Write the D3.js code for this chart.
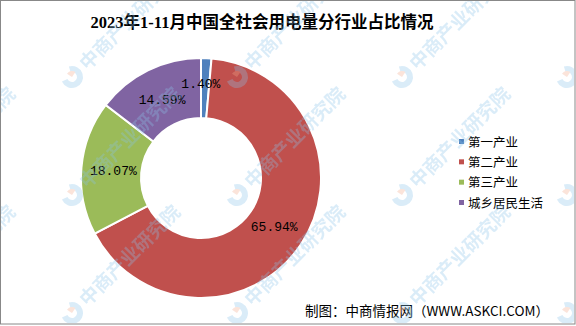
<!DOCTYPE html>
<html><head><meta charset="utf-8">
<script src="https://cdn.jsdelivr.net/npm/d3@7"></script>
<style>html,body{margin:0;padding:0;background:#fff;}svg{display:block;}</style>
</head><body>
<svg id="chart" width="576" height="326"></svg>
<script>
const title = "2023年1-11月中国全社会用电量分行业占比情况";
const categories = ["第一产业", "第二产业", "第三产业", "城乡居民生活"];
const values = [1.40, 65.94, 18.07, 14.59];
const colors = ["#4F81BD", "#C0504D", "#9BBB59", "#8064A2"];
const source = "制图：中商情报网（WWW.ASKCI.COM）";
const watermark = "中商产业研究院";

const svg = d3.select("#chart");
const W = 576, H = 326;
svg.append("defs").append("clipPath").attr("id","inner")
  .append("rect").attr("x",1).attr("y",1).attr("width",W-3).attr("height",H-4);
svg.append("rect").attr("x",0.5).attr("y",0.5).attr("width",W-1.5).attr("height",H-2.5)
  .attr("fill","#fff").attr("stroke","#888").attr("stroke-width",1);

svg.append("text").attr("x",262).attr("y",28).attr("text-anchor","middle")
  .attr("font-family","'Liberation Serif','Noto Sans CJK SC',serif").attr("font-weight","bold")
  .attr("font-size",16.5).attr("fill","#000").text(title);

const cx = 201, cy = 178, rOut = 120, rIn = 60;
const pie = d3.pie().sort(null).value(d=>d.v);
const data = pie(categories.map((c,i)=>({c, v: values[i], col: colors[i]})));
const arc = d3.arc().innerRadius(rIn).outerRadius(rOut);
const labelArc = d3.arc().innerRadius(88).outerRadius(88);
const g = svg.append("g").attr("transform",`translate(${cx},${cy})`);
g.selectAll("path").data(data).join("path").attr("d",arc)
  .attr("fill",d=>d.data.col).attr("stroke","#fff").attr("stroke-width",2);

g.selectAll("text.lbl").data(data).join("text").attr("class","lbl")
  .attr("transform",(d,i)=>{const p = labelArc.centroid(d); if(i===0){p[0]-=4;p[1]-=7;} return `translate(${p[0]},${p[1]})`;})
  .attr("text-anchor","middle").attr("dy","0.35em")
  .attr("font-family","'Liberation Mono',monospace").attr("font-size",13).attr("fill","#000")
  .text(d=>d.data.v.toFixed(2)+"%");

const legY = d3.scalePoint().domain(categories).range([142,203]);
const leg = svg.append("g");
categories.forEach((c,i)=>{
  leg.append("rect").attr("x",459).attr("y",legY(c)-3).attr("width",5).attr("height",5).attr("fill",colors[i]);
  leg.append("text").attr("x",468).attr("y",legY(c)).attr("dy","0.36em")
    .attr("font-family","'Noto Sans CJK SC',sans-serif").attr("font-size",12.5).attr("fill","#000").text(c);
});

svg.append("text").attr("x",305).attr("y",311).attr("dy","0.36em")
  .attr("font-family","'Noto Sans CJK SC','Liberation Sans',sans-serif").attr("font-size",13.5)
  .attr("fill","#000").text(source);

// watermark grid
const wmX = [-93, 72, 237, 402, 567];
const wmY = [-40, 77, 195, 313];
const wm = svg.append("g").attr("clip-path","url(#inner)").attr("opacity",0.32).attr("pointer-events","none");
wmY.forEach(y=>wmX.forEach(x=>{
  const w = wm.append("g").attr("transform",`translate(${x},${y}) rotate(-45)`);
  w.append("path").attr("d",d3.arc().innerRadius(5).outerRadius(11).startAngle(0.5).endAngle(Math.PI*2-1.2)()).attr("fill","#8cc4ea");
  w.append("path").attr("d",d3.arc().innerRadius(0).outerRadius(6).startAngle(-0.2).endAngle(1.4)()).attr("fill","#f2a98c");
  w.append("text").attr("x",15).attr("y",7).attr("font-family","'Noto Sans CJK SC',sans-serif")
    .attr("font-weight","bold").attr("font-size",19).attr("fill","#8cc4ea").text(watermark);
}));
</script>
</body></html>
